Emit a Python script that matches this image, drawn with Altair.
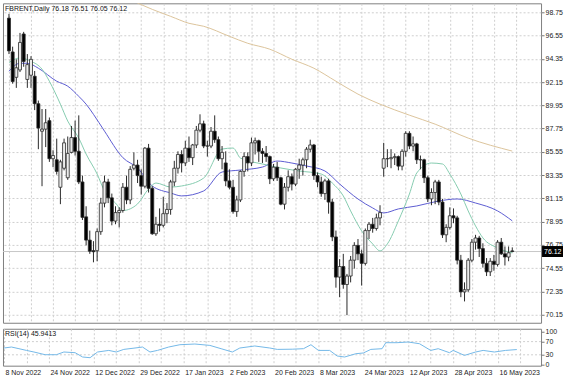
import altair as alt
import pandas as pd

# ---------------- data ----------------
date_labels = ["8 Nov 2022", "24 Nov 2022", "12 Dec 2022", "29 Dec 2022", "17 Jan 2023",
               "2 Feb 2023", "20 Feb 2023", "8 Mar 2023", "24 Mar 2023", "12 Apr 2023",
               "28 Apr 2023", "16 May 2023"]

opens = [98.2, 95.0, 92.6, 93.3, 96.7, 92.4, 92.8, 92.7, 90.1, 87.5,
         87.7, 88.5, 84.9, 84.8, 82.2, 84.0, 83.1, 85.5, 86.9, 85.6,
         82.7, 79.4, 77.2, 76.2, 76.2, 78.0, 80.7, 82.7, 81.2, 79.0,
         79.8, 80.0, 82.2, 81.0, 84.0, 84.3, 83.3, 82.3, 85.9, 82.1,
         77.8, 78.7, 78.6, 79.7, 80.1, 82.7, 84.0, 85.3, 84.5, 85.9,
         85.0, 86.2, 87.6, 88.2, 86.1, 86.1, 87.5, 86.7, 84.9, 84.5,
         82.8, 82.2, 79.9, 81.0, 83.7, 85.1, 84.5, 86.4, 86.6, 85.6,
         85.4, 85.1, 83.0, 84.1, 83.1, 80.6, 82.2, 83.2, 82.5, 83.9,
         84.3, 84.8, 85.8, 86.2, 83.3, 82.7, 81.6, 82.8, 80.8, 77.5,
         73.7, 74.7, 73.0, 73.8, 75.3, 76.7, 75.9, 75.0, 78.1, 78.7,
         78.3, 79.3, 84.0, 84.9, 84.9, 85.0, 85.1, 84.2, 85.6, 87.3,
         86.1, 86.3, 84.8, 84.8, 83.1, 81.1, 81.7, 82.7, 80.8, 77.7,
         78.4, 79.5, 79.3, 75.3, 72.3, 72.5, 75.3, 77.0, 77.4, 76.4,
         75.0, 74.2, 75.2, 74.9, 77.0, 75.9, 75.6, 76.18]
highs = [98.6, 95.5, 94.3, 96.8, 96.9, 94.8, 94.6, 93.2, 90.4, 89.6,
         89.6, 88.8, 85.7, 86.8, 84.8, 86.8, 87.0, 88.0, 88.5, 89.0,
         83.3, 80.4, 78.1, 77.1, 78.3, 81.2, 83.3, 83.0, 81.6, 80.4,
         80.3, 82.6, 83.3, 84.2, 85.5, 84.8, 83.9, 86.0, 86.3, 82.3,
         79.4, 80.2, 81.3, 80.7, 82.9, 84.7, 85.6, 85.7, 86.6, 87.0,
         86.3, 88.0, 89.1, 88.5, 86.6, 87.9, 89.0, 87.0, 86.1, 85.6,
         83.9, 82.9, 81.4, 83.8, 85.5, 85.5, 86.9, 86.9, 86.7, 85.9,
         86.1, 85.2, 84.4, 84.6, 83.2, 82.6, 83.8, 83.5, 84.0, 84.9,
         85.0, 86.0, 86.7, 86.3, 83.6, 83.2, 83.0, 83.0, 81.1, 78.1,
         75.4, 75.9, 74.0, 75.7, 77.0, 77.3, 76.3, 78.3, 78.9, 79.3,
         79.7, 80.5, 86.4, 85.8, 85.8, 85.4, 85.2, 85.8, 87.5, 87.5,
         87.0, 86.4, 85.2, 84.9, 83.3, 82.1, 82.9, 82.9, 81.1, 78.7,
         80.3, 80.2, 79.5, 75.8, 73.2, 75.5, 77.3, 77.7, 77.6, 76.9,
         75.5, 75.5, 75.8, 77.2, 77.4, 76.6, 76.6, 76.51]
lows = [94.8, 92.0, 91.6, 93.1, 93.6, 91.6, 91.6, 89.5, 85.8, 82.3,
        86.0, 84.6, 84.1, 83.4, 80.6, 83.8, 82.9, 85.4, 85.2, 82.5,
        79.1, 76.7, 75.9, 75.1, 75.2, 77.7, 80.3, 80.7, 78.6, 78.7,
        78.4, 79.8, 80.6, 80.6, 83.8, 82.6, 81.5, 82.1, 81.7, 77.7,
        77.6, 78.0, 78.4, 78.8, 79.6, 82.3, 83.5, 83.6, 84.2, 84.6,
        84.3, 85.9, 87.4, 85.9, 85.1, 85.9, 86.4, 84.7, 83.9, 82.3,
        82.0, 79.7, 79.4, 80.8, 83.2, 83.7, 84.2, 85.3, 84.6, 84.5,
        84.6, 82.5, 82.8, 82.8, 80.5, 80.1, 81.8, 81.9, 82.3, 83.0,
        83.3, 84.0, 85.5, 82.9, 82.2, 81.3, 81.0, 79.7, 77.1, 72.7,
        71.8, 72.6, 70.1, 73.2, 74.5, 75.3, 72.9, 74.8, 77.3, 77.9,
        78.1, 78.6, 83.2, 84.1, 84.0, 84.3, 83.8, 83.8, 85.1, 85.8,
        85.6, 84.4, 83.9, 82.6, 80.8, 80.5, 80.6, 80.5, 77.4, 77.0,
        78.2, 78.8, 74.9, 71.8, 71.4, 72.3, 75.1, 76.3, 75.6, 74.6,
        73.8, 73.8, 74.3, 74.7, 75.8, 74.8, 75.2, 76.05]
closes = [95.1, 92.2, 93.5, 95.9, 94.1, 93.8, 94.3, 90.1, 87.8, 87.7,
          88.3, 84.9, 85.2, 83.7, 84.6, 86.4, 85.4, 86.9, 85.6, 82.7,
          79.35, 77.2, 76.15, 76.1, 78.0, 80.7, 82.7, 81.2, 79.0, 79.8,
          80.0, 82.2, 81.0, 83.9, 84.3, 83.3, 82.3, 85.9, 82.1, 77.8,
          78.7, 78.6, 79.7, 80.1, 82.7, 84.0, 85.3, 84.5, 85.9, 85.0,
          86.2, 87.6, 88.2, 86.1, 86.1, 87.5, 86.7, 84.9, 85.5, 82.8,
          82.2, 79.9, 81.0, 83.7, 85.1, 84.5, 86.4, 86.6, 85.6, 85.4,
          85.1, 83.0, 84.1, 83.1, 80.6, 82.2, 83.2, 82.5, 83.9, 84.3,
          84.8, 85.8, 86.2, 83.3, 82.7, 81.6, 82.8, 80.8, 77.5, 73.7,
          74.7, 73.0, 73.8, 75.3, 76.7, 75.9, 75.0, 78.1, 78.7, 78.3,
          79.3, 79.8, 84.9, 84.9, 85.0, 85.1, 84.2, 85.6, 87.3, 86.1,
          86.3, 84.8, 84.8, 83.1, 81.1, 81.7, 82.7, 80.8, 77.7, 78.4,
          79.5, 79.3, 75.3, 72.3, 72.5, 75.3, 77.0, 77.4, 76.4, 75.0,
          74.2, 75.2, 74.9, 77.0, 75.9, 75.6, 76.0, 76.12]

# moving averages (bar index, price)
ma_slow_idx = [31, 34, 39, 44, 49, 53, 60, 65, 71, 77, 83, 89, 95, 101, 109, 116, 125, 137]
ma_slow_val = [100.26, 99.79, 99.03, 98.37, 97.71, 97.43, 96.48, 95.82, 95.26, 94.31,
               93.46, 92.23, 91.01, 90.06, 89.02, 88.17, 86.85, 85.62]

ma_mid_idx = [0, 3, 5, 8, 13, 16, 19, 21, 23, 26, 31, 35, 39, 44, 47, 53, 58, 63, 69, 73,
              77, 81, 86, 90, 95, 99, 102, 106, 111, 117, 122, 127, 133, 137]
ma_mid_val = [93.18, 93.93, 93.93, 93.46, 92.23, 91.76, 90.80, 90.06, 89.10, 87.51,
              85.00, 84.02, 82.32, 81.66, 81.38, 81.85, 83.64, 83.83, 84.11, 84.68,
              84.49, 84.21, 83.74, 82.51, 81.09, 80.24, 79.77, 80.15, 80.43, 80.90,
              81.09, 80.71, 79.96, 79.02]

ma_fast_idx = [0, 3, 6, 9, 11, 14, 16, 19, 21, 24, 26, 29, 31, 35, 38, 40, 44, 47, 53, 58,
               61, 63, 69, 74, 79, 85, 88, 91, 93, 96, 99, 101, 103, 106, 109, 111, 115,
               118, 120, 123, 125, 127, 129, 133, 137]
ma_fast_val = [94.00, 94.43, 94.12, 93.37, 92.23, 90.06, 88.46, 86.85, 85.34, 83.45,
               81.85, 80.70, 80.00, 80.62, 82.04, 82.60, 82.22, 82.32, 83.07, 85.81,
               85.91, 84.96, 84.40, 84.02, 83.74, 83.45, 82.60, 81.38, 79.96, 78.07,
               76.84, 76.18, 76.84, 79.02, 81.56, 83.55, 84.49, 84.40, 83.45, 81.56,
               79.96, 78.54, 77.41, 76.46, 75.99]

rsi_idx = [0, 2, 4, 6, 8, 11, 14, 16, 19, 21, 23, 25, 28, 30, 32, 35, 37, 39, 41, 44,
           47, 51, 55, 58, 61, 63, 67, 71, 73, 77, 80, 82, 84, 87, 89, 91, 94, 96, 98, 101,
           102, 105, 108, 111, 114, 116, 119, 120, 123, 126, 128, 131, 134, 137]
rsi_val = [50.6, 53.6, 48.5, 43.3, 38.5, 30.3, 30.3, 38.5, 36.4, 23.3,
           21.2, 38.5, 43.3, 38.5, 46.4, 50.6, 53.6, 38.5, 43.3, 53.6,
           60.6, 62.7, 58.5, 48.5, 38.5, 50.6, 56.7, 50.6, 46.4, 47.0,
           48.5, 60.6, 43.3, 43.3, 26.4, 23.3, 33.3, 35.5, 46.4, 48.5,
           66.7, 66.7, 68.8, 63.6, 43.3, 48.5, 36.4, 43.3, 28.2, 38.5,
           43.3, 38.5, 43.3, 45.9]

price_ticks = [70.15, 72.35, 74.55, 76.75, 78.95, 81.15, 83.35, 85.55, 87.75,
               89.95, 92.15, 94.35, 96.55, 98.75]
rsi_ticks = [0, 30, 70, 100]
rsi_levels = [30, 70]
last_price = [76.12]
title_text = "FBRENT,Daily  76.18 76.51 76.05 76.12"
rsi_text = "RSI(14) 45.9413"

# ---------------- tables ----------------
candles = pd.DataFrame({"i": list(range(len(opens))), "open": opens, "high": highs,
                        "low": lows, "close": closes})
slow_df = pd.DataFrame({"i": ma_slow_idx, "v": ma_slow_val})
mid_df = pd.DataFrame({"i": ma_mid_idx, "v": ma_mid_val})
fast_df = pd.DataFrame({"i": ma_fast_idx, "v": ma_fast_val})
rsi_df = pd.DataFrame({"i": rsi_idx, "v": rsi_val})
last_df = pd.DataFrame({"p": last_price, "t": ["%.2f" % last_price[0]]})

# ---------------- style ----------------
FONT = "Liberation Sans"
GRID = "#cfcfcf"
DASH = [2, 2]
xs = alt.Scale(domain=[-0.267, 143.47], nice=False, zero=False)
ys = alt.Scale(domain=[69.38, 99.60], nice=False, zero=False)
rs = alt.Scale(domain=[-3.0, 109.0], nice=False, zero=False)
grid_idx = list(range(0, 144, 6))

x_axis_main = alt.Axis(values=grid_idx, labels=False, ticks=False, domain=False, grid=True,
                       gridColor=GRID, gridDash=DASH, title=None)
y_axis_main = alt.Axis(orient="right", values=price_ticks, format=".2f", grid=True,
                       gridColor=GRID, gridDash=DASH, domain=False, tickSize=3,
                       tickColor="#777", labelFont=FONT, labelFontSize=7, labelColor="#222",
                       labelPadding=1, title=None)

labels_js = "[" + ",".join("'%s'" % s for s in date_labels) + "]"
x_axis_rsi = alt.Axis(values=grid_idx, grid=True, gridColor=GRID, gridDash=DASH,
                      domain=False, ticks=False, labelFont=FONT, labelFontSize=7,
                      labelColor="#222", labelAlign="left", labelBaseline="top",
                      labelPadding=3, labelOffset=1, labelOverlap=False, labelFlush=False,
                      labelBound=False,
                      labelExpr="datum.value % 12 == 0 ? " + labels_js + "[datum.value / 12] : ''",
                      title=None)
y_axis_rsi = alt.Axis(orient="right", values=rsi_ticks, grid=False, domain=False, tickSize=3,
                      tickColor="#777", labelFont=FONT, labelFontSize=7, labelColor="#222",
                      labelPadding=1, title=None)

X = alt.X("i:Q", scale=xs, axis=x_axis_main)

price_line = alt.Chart(last_df).mark_rule(color="#c8c8c8", strokeWidth=1).encode(
    y=alt.Y("p:Q", scale=ys, axis=y_axis_main))

wicks = alt.Chart(candles).mark_rule(color="#2a2a2a", strokeWidth=1).encode(
    x=X, y=alt.Y("low:Q", scale=ys, axis=y_axis_main), y2="high:Q")

bodies = alt.Chart(candles).mark_bar(size=3, stroke="#2a2a2a", strokeWidth=0.8).encode(
    x=X, y=alt.Y("open:Q", scale=ys, axis=y_axis_main), y2="close:Q",
    fill=alt.condition("datum.close >= datum.open", alt.value("#ececec"), alt.value("#000000")))

def ma_line(df, color):
    return alt.Chart(df).mark_line(color=color, strokeWidth=1, clip=True,
                                   interpolate="monotone").encode(
        x=X, y=alt.Y("v:Q", scale=ys, axis=y_axis_main))

slow_line = ma_line(slow_df, "#dcc49c")
mid_line = ma_line(mid_df, "#5c5cd2")
fast_line = ma_line(fast_df, "#86ccb0")

title_mark = alt.Chart(pd.DataFrame({"t": [title_text]})).mark_text(
    align="left", baseline="middle", font=FONT, fontSize=7, color="#111").encode(
    x=alt.value(2), y=alt.value(6), text="t:N")

price_box = alt.Chart(last_df).mark_rect(color="#000000", yOffset=-5.5, y2Offset=5.5).encode(
    x=alt.value(540), x2=alt.value(561), y=alt.Y("p:Q", scale=ys, axis=y_axis_main), y2="p:Q")
price_txt = alt.Chart(last_df).mark_text(align="left", baseline="middle", font=FONT,
                                         fontSize=7, color="#ffffff").encode(
    x=alt.value(542), y=alt.Y("p:Q", scale=ys, axis=y_axis_main), text="t:N")

main = alt.layer(price_line, slow_line, mid_line, fast_line, wicks, bodies,
                 title_mark, price_box, price_txt).properties(width=539, height=320)

XR = alt.X("i:Q", scale=xs, axis=x_axis_rsi)
rsi_grid = alt.Chart(pd.DataFrame({"lvl": rsi_levels})).mark_rule(
    color=GRID, strokeDash=DASH, strokeWidth=1).encode(
    y=alt.Y("lvl:Q", scale=rs, axis=y_axis_rsi))
rsi_line = alt.Chart(rsi_df).mark_line(color="#74b9e8", strokeWidth=1).encode(
    x=XR, y=alt.Y("v:Q", scale=rs, axis=y_axis_rsi))
rsi_title = alt.Chart(pd.DataFrame({"t": [rsi_text]})).mark_text(
    align="left", baseline="middle", font=FONT, fontSize=7, color="#111").encode(
    x=alt.value(2), y=alt.value(5), text="t:N")

rsi = alt.layer(rsi_grid, rsi_line, rsi_title).properties(width=539, height=37)

chart = alt.vconcat(main, rsi, spacing=3).properties(
    padding={"left": 1, "top": 2, "right": 0, "bottom": 0},
    background="#ffffff",
).configure_view(stroke="#808080", strokeWidth=1)

chart.save("out.html", embed_options={"renderer": "svg", "actions": False})
